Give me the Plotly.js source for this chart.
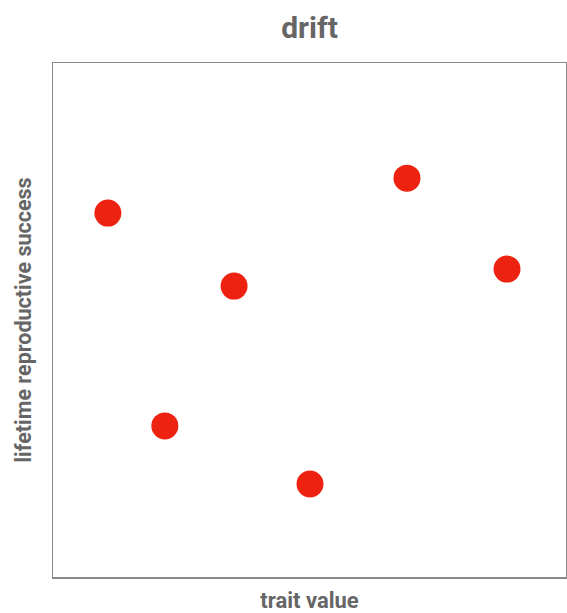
<!DOCTYPE html>
<html>
<head>
<meta charset="utf-8">
<script src="https://cdn.plot.ly/plotly-3.0.1.min.js"></script>
<style>html,body{margin:0;padding:0;background:#fff;}#chart{width:567px;height:613px;}</style>
</head>
<body>
<div id="chart"></div>
<script>
var traitValue = [0.107, 0.218, 0.353, 0.501, 0.690, 0.885];
var reproSuccess = [0.708, 0.294, 0.566, 0.181, 0.776, 0.599];
var chartTitle = "drift";
var xTitle = "trait value";
var yTitle = "lifetime reproductive success";

var fontFam = "'Liberation Sans Narrow', 'Roboto', sans-serif";
var trace = {
  x: traitValue, y: reproSuccess, type: "scatter", mode: "markers",
  marker: {color: "#ee2211", size: 27},
  hoverinfo: "skip"
};
var layout = {
  width: 567, height: 613,
  margin: {l: 53, r: 1, t: 63, b: 36},
  paper_bgcolor: "#fff", plot_bgcolor: "#fff",
  showlegend: false,
  title: {text: "<b>" + chartTitle + "</b>", x: 0.546, xanchor: "center", y: 0.955, yanchor: "middle",
          font: {family: fontFam, size: 30, color: "#666"}},
  xaxis: {range: [0, 1], showgrid: false, zeroline: false, showticklabels: false, ticks: "",
          showline: true, mirror: true, linecolor: "#888", linewidth: 1.5,
          title: {text: "<b>" + xTitle + "</b>", standoff: 16, font: {family: fontFam, size: 22, color: "#666"}}},
  yaxis: {range: [0, 1], showgrid: false, zeroline: false, showticklabels: false, ticks: "",
          showline: true, mirror: true, linecolor: "#888", linewidth: 1.5,
          title: {text: "<b>" + yTitle + "</b>", standoff: 14, font: {family: fontFam, size: 21.5, color: "#666"}}}
};
Plotly.newPlot("chart", [trace], layout, {displayModeBar: false, staticPlot: true});
</script>
</body>
</html>
